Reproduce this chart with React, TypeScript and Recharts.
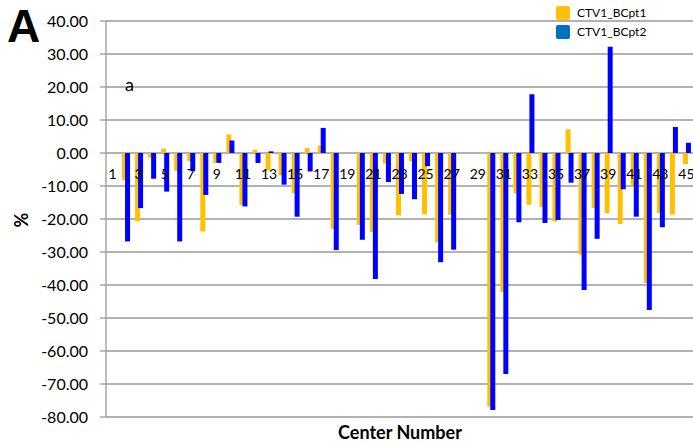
import { BarChart, Bar, XAxis, YAxis, CartesianGrid } from 'recharts';

const centers = [
  '1', '2', '3', '4', '5', '6', '7', '8', '9', '10', '11', '12', '13', '14', '15',
  '16', '17', '18', '19', '20', '21', '22', '23', '24', '25', '26', '27', '28', '29', '30',
  '31', '32', '33', '34', '35', '36', '37', '38', '39', '40', '41', '42', '43', '44', '45',
];

const bcpt1 = [
  0, -8.3, -20.7, -1.4, 1.3, -5.5, -2.5, -23.8, -3.0, 5.6, -15.7, 1.0, -5.3, -6.8, -12.2,
  1.5, 2.3, -23.0, 0, -21.8, -24.0, -3.2, -18.9, -2.5, -18.6, -27.1, -18.7, 0, 0, -76.9,
  -42.2, -12.2, -15.7, -16.4, -20.8, 7.2, -30.8, -16.7, -18.2, -21.5, -10.3, -39.5, -18.2, -18.7, -3.4,
];

const bcpt2 = [
  0, -26.8, -16.7, -7.8, -11.7, -26.8, -5.5, -12.7, -3.0, 3.8, -16.2, -3.0, 0.5, -9.6, -19.3,
  -5.6, 7.6, -29.4, 0, -26.3, -38.2, -8.8, -12.4, -14.0, -4.0, -33.1, -29.3, 0, 0, -77.9,
  -67.0, -21.0, 17.8, -21.2, -20.3, -9.0, -41.5, -26.0, 32.2, -11.0, -19.3, -47.6, -22.5, 7.9, 3.1,
];

const yTicks = [-80, -70, -60, -50, -40, -30, -20, -10, 0, 10, 20, 30, 40];

const series = [
  { key: 'bcpt1', name: 'CTV1_BCpt1', color: '#FFC000', legend: '#FFC000' },
  { key: 'bcpt2', name: 'CTV1_BCpt2', color: '#0000FF', legend: '#0070C0' },
];

const data = centers.map((c, i) => ({ center: c, bcpt1: bcpt1[i], bcpt2: bcpt2[i] }));

const W = 693;
const H = 442;
const TOP = 21;
const XAXIS_H = 25;
const Y_MIN = -80;
const Y_MAX = 40;
// pixel row of the zero line, where Excel drew the category labels
const ZERO_Y = TOP + ((H - TOP - XAXIS_H) * Y_MAX) / (Y_MAX - Y_MIN);

const font = 'Lato, "Open Sans", sans-serif';

function CenterTick(props: any) {
  const { x, payload } = props;
  return (
    <text x={x} y={ZERO_Y + 26} textAnchor="middle" fontSize={14} fontFamily={font} fill="#000">
      {payload.value}
    </text>
  );
}

export default function App() {
  return (
    <div style={{ position: 'absolute', left: 0, top: 0, width: W, height: H, background: '#fff' }}>
      <BarChart width={W} height={H} data={data} margin={{ top: TOP, right: 0, left: 0, bottom: 0 }} barGap={-2}>
        <CartesianGrid vertical={false} stroke="#999" strokeWidth={1.3} />
        <XAxis
          dataKey="center"
          height={XAXIS_H}
          axisLine={false}
          tickLine={false}
          interval={1}
          tick={<CenterTick />}
        />
        <YAxis
          width={106}
          domain={[Y_MIN, Y_MAX]}
          ticks={yTicks}
          interval={0}
          tickFormatter={(v: number) => v.toFixed(2)}
          tick={{ fill: '#000', fontSize: 16, fontFamily: font }}
          axisLine={{ stroke: '#999', strokeWidth: 1.3 }}
          tickLine={{ stroke: '#999', strokeWidth: 1.3 }}
          tickSize={6}
          tickMargin={12}
        />
        {series.map((s) => (
          <Bar key={s.key} dataKey={s.key} name={s.name} fill={s.color} barSize={5} isAnimationActive={false} />
        ))}
      </BarChart>

      <svg width={W} height={H} style={{ position: 'absolute', left: 0, top: 0, pointerEvents: 'none' }}>
        <text x={7} y={42} fontSize={46} fontWeight="bold" fontFamily='"Liberation Sans", Arial, sans-serif' fill="#000">
          A
        </text>
        <text x={125} y={91} fontSize={18} fontFamily={font} fill="#000">
          a
        </text>
        <text
          x={21}
          y={220}
          transform="rotate(-90 21 220)"
          textAnchor="middle"
          dominantBaseline="central"
          fontSize={18}
          fontWeight="bold"
          fontFamily={font}
          fill="#000"
        >
          %
        </text>
        <text x={400} y={439} textAnchor="middle" fontSize={18} fontWeight="bold" fontFamily={font} fill="#000">
          Center Number
        </text>
      </svg>

      <div style={{ position: 'absolute', left: 556, top: 3, fontFamily: font, fontSize: 12, color: '#000' }}>
        {series.map((s) => (
          <div key={s.key} style={{ display: 'flex', alignItems: 'center', height: 19 }}>
            <div style={{ width: 14, height: 14, borderRadius: 2, background: s.legend, marginRight: 7 }} />
            <span>{s.name}</span>
          </div>
        ))}
      </div>
    </div>
  );
}
